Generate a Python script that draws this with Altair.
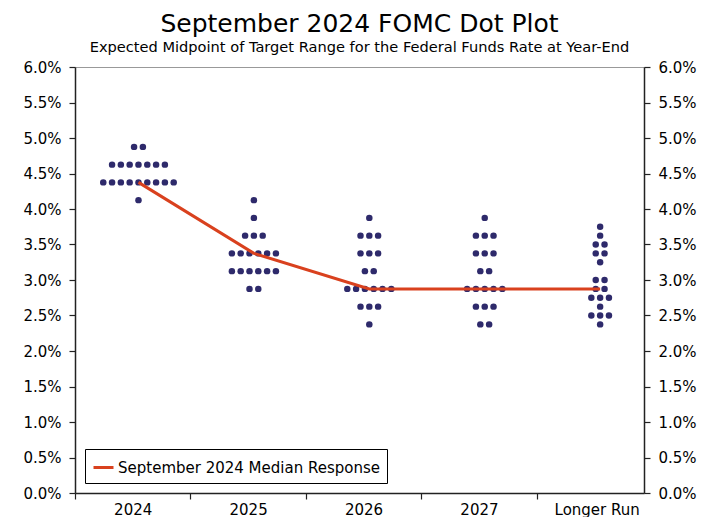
import altair as alt
import pandas as pd

# ---- data -------------------------------------------------------------
categories = ["2024", "2025", "2026", "2027", "Longer Run"]

dots_2024 = {4.875: 2, 4.625: 7, 4.375: 9, 4.125: 1}
dots_2025 = {4.125: 1, 3.875: 1, 3.625: 3, 3.375: 6, 3.125: 6, 2.875: 2}
dots_2026 = {3.875: 1, 3.625: 3, 3.375: 3, 3.125: 2, 2.875: 6, 2.625: 3, 2.375: 1}
dots_2027 = {3.875: 1, 3.625: 3, 3.375: 3, 3.125: 2, 2.875: 5, 2.625: 3, 2.375: 2}
dots_longer = {3.75: 1, 3.625: 1, 3.5: 2, 3.375: 2, 3.25: 1, 3.0: 2,
               2.875: 2, 2.75: 3, 2.625: 1, 2.5: 3, 2.375: 1}

median = [4.375, 3.375, 2.875, 2.875, 2.875]
series_name = "September 2024 Median Response"

y_ticks = [i * 0.5 for i in range(13)]

# ---- layout helpers (dot-plot stacking) --------------------------------
center_shift = 0.55   # dot column position inside each category slot
dot_step = 0.0763     # horizontal spacing between dots in a row
x_max = 4.93

rows = []
for i, d in enumerate([dots_2024, dots_2025, dots_2026, dots_2027, dots_longer]):
    for rate, n in d.items():
        for j in range(n):
            rows.append({"x": i + center_shift + (j - (n - 1) / 2) * dot_step,
                         "rate": rate, "cat": categories[i]})
dots_df = pd.DataFrame(rows)

line_df = pd.DataFrame({"x": [i + center_shift for i in range(len(categories))],
                        "rate": median,
                        "series": series_name})

FONT = "DejaVu Sans"
DOT = "#2e2a6b"
RED = "#d9411e"

x_scale = alt.Scale(domain=[0, x_max], nice=False, zero=False)
y_scale = alt.Scale(domain=[0, 6], nice=False)

label_positions = [0.5, 1.5, 2.5, 3.5, 4.52]
cat_array = "[" + ",".join("'" + c + "'" for c in categories) + "]"
y_label_expr = "format(datum.value, '.1f') + '%'"

dots = alt.Chart(dots_df).mark_circle(size=42, opacity=1, color=DOT).encode(
    x=alt.X("x:Q", scale=x_scale,
            axis=alt.Axis(orient="bottom", values=[0, 1, 2, 3, 4], labels=False,
                          title=None, grid=False, tickSize=6, tickColor="#222",
                          domainColor="#222", domainWidth=1.5, tickWidth=1.2)),
    y=alt.Y("rate:Q", scale=y_scale,
            axis=alt.Axis(orient="left", values=y_ticks, labelExpr=y_label_expr,
                          title=None, grid=False, tickSize=6, tickColor="#222",
                          domainColor="#222", domainWidth=1.5, tickWidth=1.2,
                          labelPadding=8, labelFontSize=15, labelFont=FONT,
                          labelColor="black")),
)

line = alt.Chart(line_df).mark_line(strokeWidth=3).encode(
    x=alt.X("x:Q", scale=x_scale,
            axis=alt.Axis(orient="bottom", values=label_positions,
                          labelExpr=cat_array + "[round(datum.value - 0.5)]",
                          ticks=False, domain=False, title=None, grid=False,
                          labelPadding=9, labelFontSize=15, labelFont=FONT,
                          labelColor="black")),
    y=alt.Y("rate:Q", scale=y_scale,
            axis=alt.Axis(orient="right", values=y_ticks, labelExpr=y_label_expr,
                          title=None, grid=False, tickSize=6, tickColor="#222",
                          domainColor="#222", domainWidth=1.5, tickWidth=1.2,
                          labelPadding=8, labelFontSize=15, labelFont=FONT,
                          labelColor="black")),
    color=alt.Color("series:N",
                    scale=alt.Scale(domain=[series_name], range=[RED]),
                    legend=alt.Legend(orient="bottom-left", title=None, offset=10,
                                      strokeColor="black", fillColor="white",
                                      padding=7, symbolType="stroke",
                                      symbolStrokeWidth=3, symbolSize=400,
                                      labelFontSize=15, labelFont=FONT,
                                      labelColor="black", labelOffset=3,
                                      labelLimit=0)),
)

chart = alt.layer(dots, line).resolve_axis(x="independent", y="independent").properties(
    width=569,
    height=426,
    autosize=alt.AutoSizeParams(type="none"),
    padding={"left": 67, "top": 59, "right": 64, "bottom": 26},
    title=alt.TitleParams(
        "September 2024 FOMC Dot Plot",
        subtitle="Expected Midpoint of Target Range for the Federal Funds Rate at Year-End",
        font=FONT, fontSize=25, fontWeight="normal", color="black",
        subtitleFont=FONT, subtitleFontSize=14.6, subtitleColor="black",
        anchor="middle", offset=5, subtitlePadding=3,
    ),
).configure_view(stroke="#999", strokeWidth=1)

chart.save("out.html", embed_options={"renderer": "svg", "actions": False})
